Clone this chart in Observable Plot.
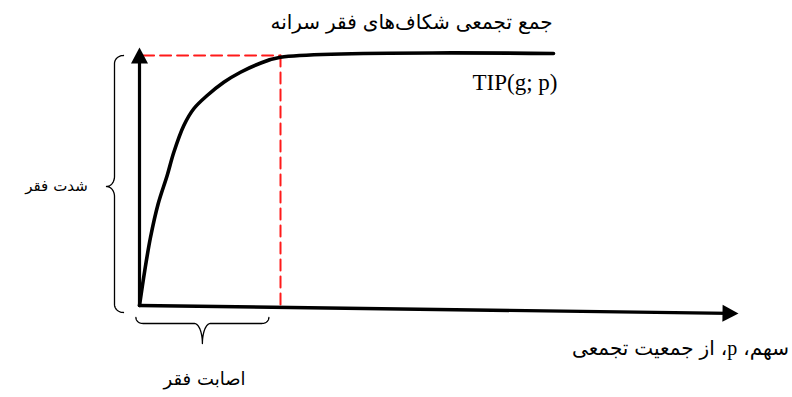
<!DOCTYPE html>
<html><head><meta charset="utf-8">
<script src="https://cdn.jsdelivr.net/npm/d3@7"></script>
<script src="https://cdn.jsdelivr.net/npm/@observablehq/plot@0.6"></script>
<style>body{margin:0;background:#fff}</style>
</head><body><div id="chart"></div>
<script>
// ---- data ----
const shareP   = [0, 0.0088, 0.0184, 0.0312, 0.0462, 0.0573, 0.074, 0.0906, 0.113, 0.1407, 0.1686, 0.1965, 0.2354, 0.6912];
const tipValue = [0, 0.140, 0.273, 0.407, 0.520, 0.613, 0.720, 0.787, 0.840, 0.893, 0.933, 0.964, 0.993, 1.008];
const headcount = 0.2354;
const maxTIP = 1.0;
const xAxisEnd = {x: 1, y: -0.032};
const yAxisEnd = {x: 0, y: 1.032};
const ySpan = [-0.028, 1.0];
const xSpan = [-0.006, 0.216];

const titleLabel = "جمع تجمعی شکاف‌های فقر سرانه";
const yLabel = "شدت فقر";
const xLabel = "سهم، p، از جمعیت تجمعی";
const curveLabel = "TIP(g; p)";
const incidenceLabel = "اصابت فقر";

// ---- helpers ----
const FONT = "'Liberation Serif', 'DejaVu Sans', serif";
const xs = d3.scaleLinear([0, 1], [139, 738]);
const ys = d3.scaleLinear([0, 1], [305, 55]);
const ctx = document.createElement("canvas").getContext("2d");

// right-to-left word layout: first word at the right
function layoutRTL(label, fontSize, centerPx, gap) {
  ctx.font = `${fontSize}px ${FONT}`;
  const words = label.split(" ").map(text => ({text, w: ctx.measureText(text).width}));
  const total = d3.sum(words, d => d.w) + gap * (words.length - 1);
  let right = centerPx + total / 2;
  words.forEach(d => { d.cx = right - d.w / 2; right -= d.w + gap; });
  return words;
}

function arc(cx, cy, rx, ry, t0, t1, n = 14) {
  return d3.range(n + 1).map(i => {
    const t = t0 + (t1 - t0) * i / n;
    return [cx + rx * Math.cos(t), cy + ry * Math.sin(t)];
  });
}
const toData = pts => pts.map(([px, py]) => ({x: xs.invert(px), y: ys.invert(py)}));
const PI = Math.PI;
function braceV(xl, yt, yb, ym, a, ra, b, rb) {
  return toData([
    ...arc(xl + a, yt + ra, a, ra, -PI / 2, -PI),
    ...arc(xl - b, ym - rb, b, rb, 0, PI / 2),
    ...arc(xl - b, ym + rb, b, rb, -PI / 2, 0),
    ...arc(xl + a, yb - ra, a, ra, PI, PI / 2)
  ]);
}
function braceH(x0, x1, yl, a, ra, b, rb) {
  const xm = (x0 + x1) / 2;
  return toData([
    ...arc(x0 + ra, yl - a, ra, a, PI, PI / 2),
    ...arc(xm - rb, yl + b, rb, b, -PI / 2, 0),
    ...arc(xm + rb, yl + b, rb, b, PI, 1.5 * PI),
    ...arc(x1 - ra, yl - a, ra, a, PI / 2, 0)
  ]);
}
function arrowHead(from, tip, L = 16, W = 8.5) {
  const fx = xs(from.x), fy = ys(from.y), tx = xs(tip.x), ty = ys(tip.y);
  const d = Math.hypot(tx - fx, ty - fy), ux = (tx - fx) / d, uy = (ty - fy) / d;
  const bx = tx - ux * L, by = ty - uy * L;
  return toData([[tx, ty], [bx - uy * W, by + ux * W], [bx + uy * W, by - ux * W], [tx, ty]]);
}

const origin = {x: 0, y: 0};
const curve = shareP.map((p, i) => ({x: p, y: tipValue[i]}));
const vBrace = braceV(xs(0) - 25, ys(ySpan[1]), ys(ySpan[0]), 186, 9, 8, 8, 10);
const hBrace = braceH(xs(xSpan[0]), xs(xSpan[1]), ys(ySpan[0]) + 11, 6, 7, 20, 8);

const persianText = (label, centerPx, baselinePx, fontSize, gap) =>
  Plot.text(layoutRTL(label, fontSize, centerPx, gap), {
    x: d => xs.invert(d.cx), y: () => ys.invert(baselinePx), text: "text",
    textAnchor: "middle", lineAnchor: "bottom", fontSize, fontFamily: FONT, fill: "black"
  });

const chart = Plot.plot({
  width: 792, height: 397,
  margin: 0,
  x: {domain: [0, 1], range: xs.range(), axis: null},
  y: {domain: [0, 1], range: ys.range(), axis: null},
  style: {background: "#fff", overflow: "visible"},
  marks: [
    Plot.line([{x: 0.006, y: maxTIP}, {x: headcount, y: maxTIP}], {x: "x", y: "y", stroke: "#ff1a1a", strokeWidth: 2, strokeDasharray: "11,6"}),
    Plot.line([{x: headcount, y: maxTIP}, {x: headcount, y: -0.008}], {x: "x", y: "y", stroke: "#ff1a1a", strokeWidth: 2, strokeDasharray: "11,6"}),
    Plot.line([origin, {x: xAxisEnd.x * 0.985, y: xAxisEnd.y * 0.985}], {x: "x", y: "y", stroke: "black", strokeWidth: 3.4}),
    Plot.line([origin, {x: 0, y: yAxisEnd.y * 0.97}], {x: "x", y: "y", stroke: "black", strokeWidth: 3.2}),
    Plot.line(arrowHead(origin, xAxisEnd), {x: "x", y: "y", fill: "black", stroke: "none"}),
    Plot.line(arrowHead(origin, yAxisEnd), {x: "x", y: "y", fill: "black", stroke: "none"}),
    Plot.line(curve, {x: "x", y: "y", stroke: "black", strokeWidth: 3.6, curve: "catmull-rom", strokeLinecap: "round"}),
    Plot.line(vBrace, {x: "x", y: "y", stroke: "black", strokeWidth: 1.3}),
    Plot.line(hBrace, {x: "x", y: "y", stroke: "black", strokeWidth: 1.3}),
    persianText(titleLabel, 411, 28, 20, 6),
    Plot.text([curveLabel], {frameAnchor: "top-left", dx: 472, dy: 89, text: d => d, textAnchor: "start", lineAnchor: "bottom", fontSize: 23, fontFamily: FONT, fill: "black"}),
    persianText(yLabel, 56, 190, 15, 5),
    persianText(incidenceLabel, 204, 384, 18, 6),
    persianText(xLabel, 680, 354, 20, 6)
  ]
});
// Persian words are right-to-left text
chart.querySelectorAll("text").forEach(t => {
  if (/[\u0600-\u06FF]/.test(t.textContent)) {
    t.setAttribute("direction", "rtl");
    t.style.direction = "rtl";
    t.style.unicodeBidi = "embed";
  }
});
document.getElementById("chart").appendChild(chart);
</script>
</body></html>
